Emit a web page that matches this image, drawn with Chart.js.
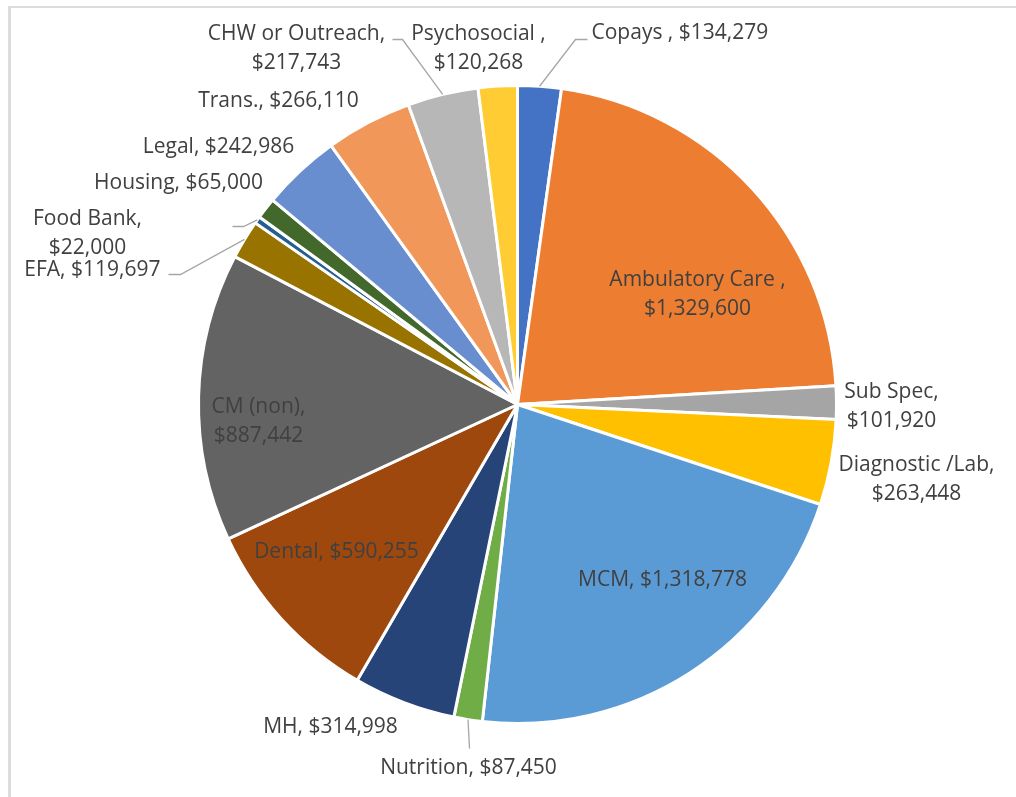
<!DOCTYPE html>
<html>
<head>
<meta charset="utf-8">
<script src="https://cdn.jsdelivr.net/npm/chart.js@4.4.1/dist/chart.umd.min.js"></script>
<style>
    body { margin: 0; background: #ffffff; }
    #frame { position: absolute; left: 8px; top: 6px; right: 0; bottom: 0; border-top: 2px solid #dcdcdc; border-left: 3px solid #dcdcdc; }
    #graph-canvas { position: absolute; left: 0; top: 0; }
</style>
</head>
<body>
<div id="frame"></div>
<canvas id="graph-canvas" width="1016" height="797"></canvas>
<script>
// data
var names = ['Copays ', 'Ambulatory Care ', 'Sub Spec', 'Diagnostic /Lab', 'MCM', 'Nutrition', 'MH', 'Dental',
             'CM (non)', 'EFA', 'Food Bank', 'Housing', 'Legal', 'Trans.', 'CHW or Outreach', 'Psychosocial '];
var amounts = [134279, 1329600, 101920, 263448, 1318778, 87450, 314998, 590255,
               887442, 119697, 22000, 65000, 242986, 266110, 217743, 120268];
var sliceColors = ['#4472C4', '#ED7D31', '#A5A5A5', '#FFC000', '#5B9BD5', '#70AD47', '#264478', '#9E480E',
                   '#636363', '#997300', '#255E91', '#43682B', '#698ED0', '#F1975A', '#B7B7B7', '#FFCD33'];

// label layout: offset from pie centre, alignment, split into two lines
var labelLayout = [
    {dx: 74, dy: -373, align: 'left', split: false},
    {dx: 180, dy: -112, align: 'center', split: true},
    {dx: 374, dy: 0, align: 'center', split: true},
    {dx: 399, dy: 73, align: 'center', split: true},
    {dx: 145, dy: 174, align: 'center', split: false},
    {dx: -49, dy: 362, align: 'center', split: false},
    {dx: -187, dy: 321, align: 'center', split: false},
    {dx: -181, dy: 146, align: 'center', split: false},
    {dx: -259, dy: 15, align: 'center', split: true},
    {dx: -357, dy: -136, align: 'right', split: false},
    {dx: -430, dy: -173, align: 'center', split: true},
    {dx: -339, dy: -223, align: 'center', split: false},
    {dx: -299, dy: -259, align: 'center', split: false},
    {dx: -239, dy: -305, align: 'center', split: false},
    {dx: -221, dy: -358, align: 'center', split: true},
    {dx: -39, dy: -358, align: 'center', split: true}
];
// leader lines: points after the slice edge, offset from centre
var leaders = {
    0: [[58, -365], [70, -365]],
    5: [[-48, 344]],
    9: [[-337, -130], [-349, -130]],
    10: [[-274, -178], [-285, -178]],
    14: [[-115, -365], [-125, -365]]
};

var fmt = (v) => '$' + v.toLocaleString('en-US');

var pieLabels = {
    id: 'pieLabels',
    afterDatasetsDraw(chart) {
        let ctx = chart.ctx;
        let arcs = chart.getDatasetMeta(0).data;
        ctx.save();
        // leaders
        ctx.strokeStyle = '#a6a6a6';
        ctx.lineWidth = 1.3;
        for (let k in leaders) {
            let a = arcs[k];
            let mid = (a.startAngle + a.endAngle) / 2;
            ctx.beginPath();
            ctx.moveTo(a.x + Math.cos(mid) * a.outerRadius, a.y + Math.sin(mid) * a.outerRadius);
            for (let p of leaders[k]) {
                ctx.lineTo(a.x + p[0], a.y + p[1]);
            }
            ctx.stroke();
        }
        // texts
        ctx.font = '21px "Open Sans"';
        ctx.fillStyle = '#404040';
        ctx.textBaseline = 'alphabetic';
        for (let i = 0; i < arcs.length; i++) {
            let a = arcs[i];
            let lay = labelLayout[i];
            let head = names[i].replace(/ $/, ' ') + ',';
            let lines = lay.split ? [head, fmt(amounts[i])] : [head + ' ' + fmt(amounts[i])];
            ctx.textAlign = lay.align;
            for (let j = 0; j < lines.length; j++) {
                let y = a.y + lay.dy + (j - (lines.length - 1) / 2) * 29 + 7.5;
                ctx.fillText(lines[j], a.x + lay.dx, y);
            }
        }
        ctx.restore();
    }
};

var canvas = window.document.getElementById('graph-canvas');
var context = canvas.getContext('2d');
var chart = new Chart(context, {
    type: 'pie',
    data: {
        labels: names,
        datasets: [{
            data: amounts,
            backgroundColor: sliceColors,
            borderColor: '#ffffff',
            borderWidth: 3
        }]
    },
    options: {
        responsive: false,
        animation: false,
        layout: { padding: { left: 197, top: 84, right: 178, bottom: 72 } },
        plugins: {
            legend: { display: false },
            tooltip: { enabled: false }
        }
    },
    plugins: [pieLabels]
});
</script>
</body>
</html>
